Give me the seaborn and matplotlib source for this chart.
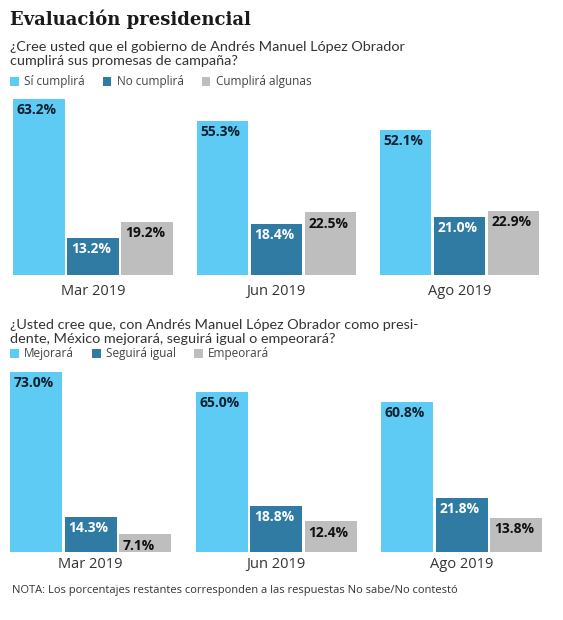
import matplotlib
matplotlib.use("Agg")
import matplotlib.pyplot as plt
import seaborn as sns
import pandas as pd

# ---------------- data ----------------
meses = ["Mar 2019", "Jun 2019", "Ago 2019"]

resp1 = ["Sí cumplirá", "No cumplirá", "Cumplirá algunas"]
si_cumplira = [63.2, 55.3, 52.1]
no_cumplira = [13.2, 18.4, 21.0]
cumplira_algunas = [19.2, 22.5, 22.9]

resp2 = ["Mejorará", "Seguirá igual", "Empeorará"]
mejorara = [73.0, 65.0, 60.8]
seguira_igual = [14.3, 18.8, 21.8]
empeorara = [7.1, 12.4, 13.8]

titulo = "Evaluación presidencial"
pregunta1 = "¿Cree usted que el gobierno de Andrés Manuel López Obrador\ncumplirá sus promesas de campaña?"
pregunta2 = "¿Usted cree que, con Andrés Manuel López Obrador como presi-\ndente, México mejorará, seguirá igual o empeorará?"
nota = "NOTA: Los porcentajes restantes corresponden a las respuestas No sabe/No contestó"

# ---------------- styling ----------------
LIGHT = "#5ECBF5"
DARK = "#2F7BA3"
GRAY = "#BEBEBE"
palette = [LIGHT, DARK, GRAY]
label_colors = ["#10202F", "#FFFFFF", "#111111"]

sns.set_theme(style="white")
plt.rcParams["font.family"] = ["Open Sans", "DejaVu Sans"]

W, H = 563, 620
fig = plt.figure(figsize=(W / 100, H / 100), dpi=100)
fig.patch.set_facecolor("white")


def make_df(series, names):
    rows = []
    for name, vals in zip(names, series):
        for m, v in zip(meses, vals):
            rows.append({"mes": m, "respuesta": name, "valor": v})
    return pd.DataFrame(rows)


df1 = make_df([si_cumplira, no_cumplira, cumplira_algunas], resp1)
df2 = make_df([mejorara, seguira_igual, empeorara], resp2)


def draw(ax, df, names, ymax, legend_y, tick_pad):
    sns.barplot(data=df, x="mes", y="valor", hue="respuesta", hue_order=names,
                order=meses, palette=palette, width=0.885, gap=0.05,
                saturation=1, ax=ax, linewidth=0)
    ax.set_xlim(-0.5, 2.5)
    ax.set_ylim(0, ymax)
    ax.set_xlabel("")
    ax.set_ylabel("")
    ax.set_yticks([])
    for s in ax.spines.values():
        s.set_visible(False)
    ax.tick_params(axis="x", length=0, pad=tick_pad, labelsize=10.5,
                   labelcolor="#333333")
    ax.set_facecolor("none")
    for cont, col in zip(ax.containers, label_colors):
        for p in cont.patches:
            ax.annotate(f"{p.get_height():.1f}%", xy=(p.get_x(), p.get_height()),
                        xytext=(2.5, -3), textcoords="offset points",
                        ha="left", va="top", fontsize=10, fontweight="bold",
                        color=col)
    sns.move_legend(ax, "center left", bbox_to_anchor=(10 / W, 1 - legend_y / H),
                    bbox_transform=fig.transFigure, ncol=3, frameon=False,
                    title=None, fontsize=8.5, handlelength=0.75, handleheight=0.75,
                    handletextpad=0.45, columnspacing=1.5, borderpad=0,
                    borderaxespad=0)
    leg = ax.get_legend()
    for t in leg.get_texts():
        t.set_color("#444444")


ax1 = fig.add_axes([1.4 / W, 1 - 275 / H, 549.75 / W, 70 * 2.785 / H])
draw(ax1, df1, resp1, 70, 82, 6.5)

ax2 = fig.add_axes([-2 / W, 1 - 552 / H, 556.5 / W, 80 * 2.466 / H])
draw(ax2, df2, resp2, 80, 354, 3.5)

fig.text(10 / W, 1 - 19 / H, titulo, ha="left", va="center", fontsize=13,
         fontweight="bold", family=["DejaVu Serif"], color="#1A1A1A")
fig.text(10 / W, 1 - 54 / H, pregunta1, ha="left", va="center", fontsize=10.4,
         family=["Lato", "DejaVu Sans"], color="#333333", linespacing=1.15)
fig.text(10 / W, 1 - 332 / H, pregunta2, ha="left", va="center", fontsize=10.4,
         family=["Lato", "DejaVu Sans"], color="#333333", linespacing=1.15)
fig.text(12 / W, 1 - 590 / H, nota, ha="left", va="center", fontsize=8,
         color="#333333")

fig.savefig("out.png", dpi=100, facecolor="white")
